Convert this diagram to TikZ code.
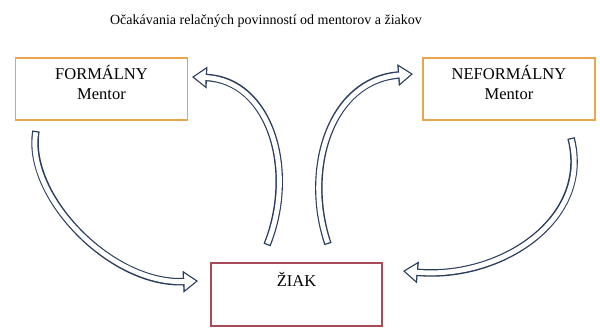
\documentclass[tikz,border=0pt]{standalone}
\usepackage{fontspec}
\setmainfont{Liberation Serif}
\usetikzlibrary{arrows.meta}
\definecolor{arrowblue}{HTML}{2A3D5C}
\definecolor{boxorange}{HTML}{E8A650}
\definecolor{boxred}{HTML}{A84A58}
\tikzset{
  mbox/.style={draw=boxorange, line width=1.8pt, minimum width=172pt, minimum height=62pt, inner sep=0pt},
  sbox/.style={draw=boxred, line width=1.6pt, minimum width=171pt, minimum height=63pt, inner sep=0pt},
  boxtext/.style={font=\fontsize{16.5}{20}\selectfont, anchor=base, inner sep=0pt},
  titletext/.style={font=\fontsize{14}{16}\selectfont, anchor=base, inner sep=0pt},
  arrowout/.style={draw=arrowblue, line width=7.5pt, -{Triangle[length=15pt,width=21pt]}},
  arrowin/.style={draw=white, line width=4.9pt, shorten <=1.3pt, shorten >=2.1pt, -{Triangle[length=11.5pt,width=16pt]}},
}
\newcommand\blockarrow[4]{%
  \draw[arrowout] (#1) .. controls #2 and #3 .. (#4);
  \draw[arrowin] (#1) .. controls #2 and #3 .. (#4);
}
\begin{document}
\begin{tikzpicture}[x=1pt,y=-1pt]
\useasboundingbox (0,0) rectangle (600,331);
\fill[white] (0,0) rectangle (600,331);
\node[titletext] (title) at (266,25) {Očakávania relačných povinností od mentorov a žiakov};
\node[mbox] (form) at (101.5,89) {};
\node[boxtext] (formA) at (101.5,80) {FORMÁLNY};
\node[boxtext] (formB) at (101.5,100) {Mentor};
\node[mbox] (neform) at (509,89) {};
\node[boxtext] (neformA) at (509,80) {NEFORMÁLNY};
\node[boxtext] (neformB) at (509,100) {Mentor};
\node[sbox] (ziak) at (296.5,294.5) {};
\node[boxtext] (ziakT) at (296.5,287) {ŽIAK};
% arrow end points
\coordinate (a1) at (36,131);
\coordinate (a2) at (198,281);
\coordinate (b1) at (267,245);
\coordinate (b2) at (192,77);
\coordinate (c1) at (328,244);
\coordinate (c2) at (413,74);
\coordinate (d1) at (571,138);
\coordinate (d2) at (403,271);
\blockarrow{a1}{(25,195)}{(110,285)}{a2}
\blockarrow{b1}{(297,170)}{(270,80)}{b2}
\blockarrow{c1}{(303,170)}{(330,80)}{c2}
\blockarrow{d1}{(592,220)}{(500,280)}{d2}
\end{tikzpicture}
\end{document}
